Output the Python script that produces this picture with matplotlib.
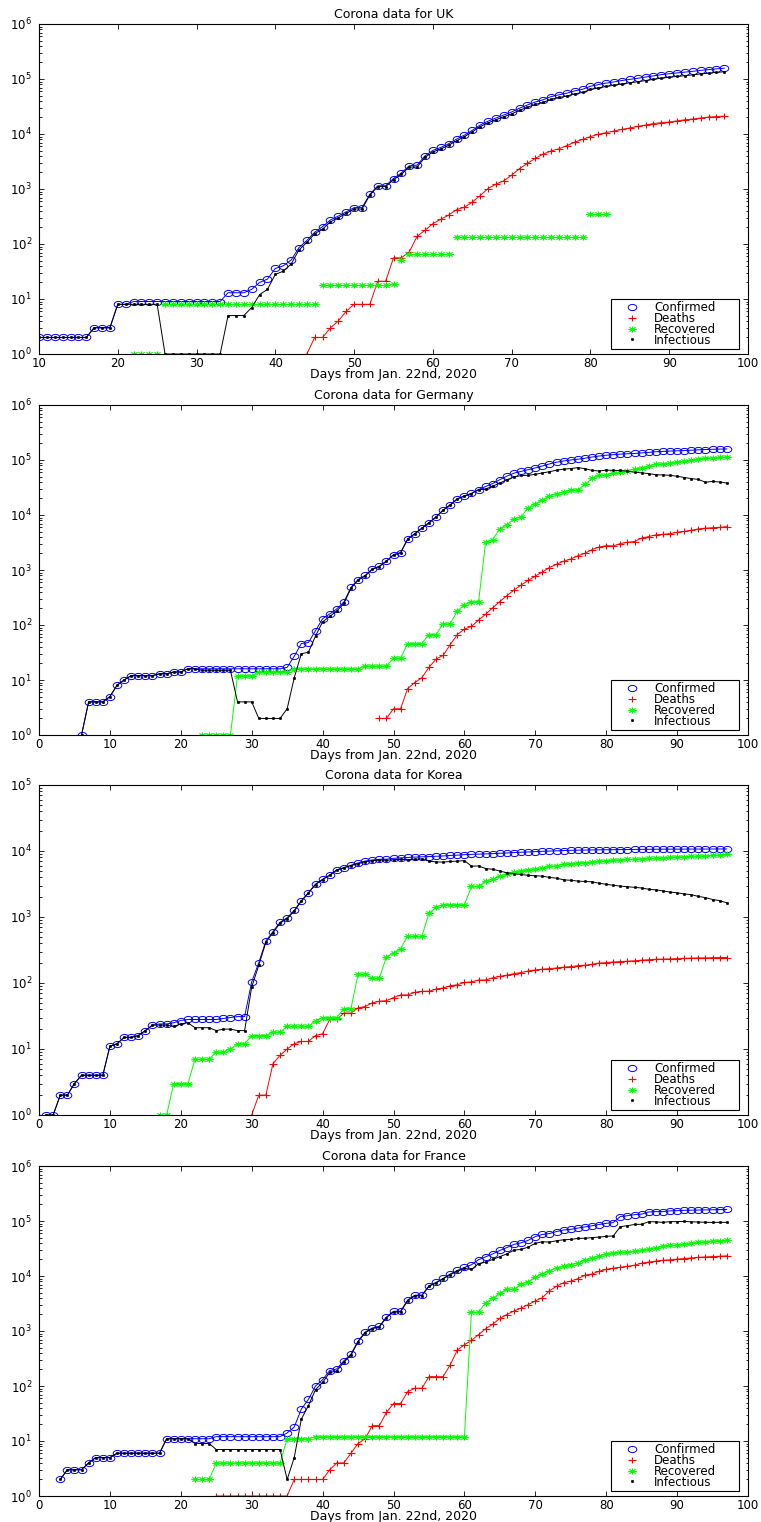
"""Corona data per country, MATLAB-like log plots (4 panels)."""
import numpy as np
import matplotlib
matplotlib.use("Agg")
import matplotlib.pyplot as plt
from matplotlib.path import Path
from matplotlib.lines import Line2D
from matplotlib.ticker import FixedLocator, LogFormatterSciNotation, NullFormatter

# ---- data (day 1 = Jan. 22nd, 2020); each series starts at its *_from day ----
uk_conf_from = 10
uk_conf = [2, 2, 2, 2, 2, 2, 2, 3, 3, 3, 8, 8, 9, 9, 9, 9, 9, 9, 9, 9, 9, 9, 9, 9,
           13, 13, 13, 15, 20, 23, 36, 40, 51, 86, 116, 164, 207, 274, 322, 384,
           459, 459, 802, 1144, 1145, 1551, 1960, 2642, 2716, 4014, 5018, 5683,
           6650, 8077, 9529, 11658, 14543, 17089, 19522, 22141, 25150, 29474,
           33718, 38168, 41903, 47806, 51608, 55242, 60733, 65077, 73758, 78991,
           84279, 88621, 93873, 98476, 103093, 108692, 114217, 120067, 124743,
           129044, 133495, 138078, 143464, 148377, 152840, 157149]
uk_dea_from = 44
uk_dea = [1, 2, 2, 3, 4, 6, 8, 8, 8, 21, 21, 56, 56, 72, 138, 178, 234, 282, 335,
          422, 465, 578, 759, 1019, 1228, 1408, 1789, 2352, 2921, 3605, 4313, 4934,
          5373, 6159, 7097, 7978, 8958, 9875, 10612, 11329, 12107, 12868, 13729,
          14576, 15464, 16060, 16509, 17337, 18100, 18738, 19506, 20319, 20732, 21092]
uk_rec_from = 22
uk_rec = [1, 1, 1, 1, 8, 8, 8, 8, 8, 8, 8, 8, 8, 8, 8, 8, 8, 8, 8, 8, 8, 8, 8, 8,
          18, 18, 18, 18, 18, 18, 18, 18, 18, 19, 52, 65, 65, 65, 65, 65, 65,
          135, 135, 135, 135, 135, 135, 135, 135, 135, 135, 135, 135, 135, 135,
          135, 135, 135, 344, 344, 344]
uk_inf_from = 10
uk_inf = [2, 2, 2, 2, 2, 2, 2, 3, 3, 3, 8, 8, 8, 8, 8, 8, 1, 1, 1, 1, 1, 1, 1, 1,
          5, 5, 5, 7, 12, 15, 28, 32, 43, 78, 107, 154, 187, 253, 300, 360, 433,
          433, 776, 1105, 1106, 1476, 1852, 2505, 2513, 3771, 4719, 5336, 6250,
          7520, 8929, 10945, 13649, 15935, 18159, 20598, 23226, 26987, 30662,
          34428, 37455, 42737, 46100, 48948, 53501, 56964, 64456, 68772, 73323,
          76948, 81422, 85264, 89020, 93772, 98409, 103663, 107890, 111363,
          115051, 118996, 123614, 127714, 131764, 135713]

ger_conf_from = 6
ger_conf = [1, 4, 4, 4, 5, 8, 10, 12, 12, 12, 12, 13, 13, 14, 14, 16, 16, 16, 16,
            16, 16, 16, 16, 16, 16, 16, 16, 16, 16, 17, 27, 46, 48, 79, 130, 159,
            196, 262, 482, 670, 799, 1040, 1176, 1457, 1908, 2078, 3675, 4585,
            5795, 7272, 9257, 12327, 15320, 19848, 22213, 24873, 29056, 32986,
            37323, 43938, 50871, 57695, 62095, 66885, 71808, 77872, 84794, 91159,
            96092, 100123, 103374, 107663, 113296, 118181, 122171, 124908, 127854,
            130072, 131359, 134753, 137698, 141397, 143342, 145184, 147065,
            148291, 150648, 153129, 154999, 156513, 157770, 158758]
ger_dea_from = 48
ger_dea = [2, 2, 3, 3, 7, 9, 11, 17, 24, 28, 44, 67, 84, 94, 123, 157, 206, 267,
           342, 433, 533, 645, 775, 920, 1107, 1275, 1444, 1584, 1810, 2016, 2349,
           2607, 2767, 2736, 3022, 3194, 3294, 3804, 4052, 4352, 4459, 4586, 4862,
           5033, 5279, 5575, 5760, 5877, 5976, 6126]
ger_rec_from = 23
ger_rec = [1, 1, 1, 1, 1, 12, 12, 12, 14, 14, 14, 14, 14, 16, 16, 16, 16, 16, 16,
           16, 16, 16, 16, 18, 18, 18, 18, 25, 25, 46, 46, 46, 67, 67, 105, 105,
           180, 233, 266, 266, 3243, 3547, 5673, 6658, 8481, 9211, 13500, 16100,
           18700, 22440, 24575, 26400, 28700, 28700, 36081, 46300, 52407, 53913,
           57400, 60300, 64300, 68200, 72600, 77000, 83114, 85400, 88000, 91500,
           95200, 99400, 103300, 109800, 109800, 112000, 114500]
ger_inf_from = 6
ger_inf = [1, 4, 4, 4, 5, 8, 10, 12, 12, 12, 12, 13, 13, 14, 14, 16, 16, 15, 15,
           15, 15, 15, 4, 4, 4, 2, 2, 2, 2, 3, 11, 30, 32, 63, 114, 143, 180, 246,
           466, 654, 781, 1022, 1156, 1437, 1880, 2050, 3622, 4530, 5738, 7188,
           9166, 12194, 15171, 19601, 21896, 24513, 28667, 29586, 33570, 37998,
           43871, 48781, 52351, 52740, 54933, 58252, 61247, 65309, 68248, 69839,
           72864, 69566, 64647, 63167, 65491, 64772, 64532, 62578, 59865, 58349,
           56646, 53931, 53483, 52598, 50703, 48058, 45969, 44254, 39439, 40836,
           39794, 38132]

kor_conf_from = 1
kor_conf = [1, 1, 2, 2, 3, 4, 4, 4, 4, 11, 12, 15, 15, 16, 19, 23, 24, 24, 25, 27,
            28, 28, 28, 28, 28, 29, 30, 31, 31, 104, 204, 433, 602, 833, 977, 1261,
            1766, 2337, 3150, 3736, 4335, 5186, 5621, 6088, 6593, 7041, 7314, 7478,
            7513, 7755, 7869, 7979, 8086, 8162, 8236, 8320, 8413, 8565, 8652, 8799,
            8897, 8961, 9037, 9137, 9241, 9332, 9478, 9583, 9661, 9786, 9887, 9976,
            10062, 10156, 10237, 10284, 10331, 10384, 10423, 10450, 10480, 10512,
            10537, 10564, 10591, 10613, 10635, 10653, 10661, 10674, 10683, 10694,
            10702, 10708, 10718, 10728, 10738]
kor_dea_from = 30
kor_dea = [1, 2, 2, 6, 8, 10, 12, 13, 13, 16, 17, 28, 28, 35, 35, 42, 44, 50, 53,
           54, 60, 66, 66, 72, 75, 75, 81, 84, 91, 94, 102, 104, 111, 111, 120, 126,
           131, 139, 144, 152, 158, 162, 165, 169, 174, 177, 183, 186, 192, 200,
           204, 208, 211, 214, 217, 222, 225, 229, 230, 232, 234, 236, 238, 240,
           240, 242, 243, 243]
kor_rec_from = 17
kor_rec = [1, 1, 3, 3, 3, 7, 7, 7, 9, 9, 10, 12, 12, 16, 16, 16, 18, 18, 22, 22, 22,
           22, 27, 30, 30, 30, 41, 41, 135, 135, 118, 118, 247, 288, 333, 510, 510,
           510, 1137, 1407, 1540, 1540, 1540, 1540, 2909, 2909, 3507, 3730, 4144,
           4528, 4811, 5033, 5228, 5410, 5567, 5828, 6021, 6325, 6463, 6598, 6694,
           6776, 6973, 7117, 7243, 7368, 7447, 7534, 7616, 7757, 7829, 7937, 8042,
           8114, 8213, 8277, 8411, 8501, 8635, 8717, 8854]
kor_inf_from = 1
kor_inf = [1, 1, 2, 2, 3, 4, 4, 4, 4, 11, 12, 15, 15, 16, 19, 23, 23, 23, 22, 24, 25,
           21, 21, 21, 19, 20, 20, 19, 19, 87, 186, 415, 578, 807, 945, 1227, 1731,
           2302, 3107, 3689, 4277, 5128, 5545, 6012, 6416, 6862, 7146, 7307, 7212,
           7407, 7470, 7403, 7504, 7577, 7024, 6832, 6789, 6934, 7018, 7157, 5884,
           5941, 5419, 5287, 4971, 4673, 4528, 4406, 4281, 4218, 4158, 3983, 3872,
           3657, 3597, 3503, 3451, 3416, 3250, 3129, 3029, 2933, 2876, 2813, 2753,
           2631, 2577, 2486, 2387, 2326, 2234, 2179, 2051, 1967, 1841, 1768, 1641]

fra_conf_from = 3
fra_conf = [2, 3, 3, 3, 4, 5, 5, 5, 6, 6, 6, 6, 6, 6, 6, 11, 11, 11, 11, 11, 11, 11,
            12, 12, 12, 12, 12, 12, 12, 12, 12, 12, 14, 18, 38, 57, 100, 130, 191,
            204, 288, 380, 656, 957, 1134, 1217, 1792, 2281, 2281, 3661, 4469, 4499,
            6633, 7652, 9043, 10871, 12612, 14282, 16018, 19856, 22304, 25233,
            29155, 32964, 37575, 40174, 44550, 52128, 56989, 59105, 64338, 68605,
            70478, 74390, 78167, 82048, 86334, 90676, 93790, 120633, 124869,
            130253, 133470, 146075, 148084, 148086, 153011, 154188, 156480,
            157220, 158303, 159127, 160114, 161488, 162220]
fra_dea_from = 25
fra_dea = [1, 1, 1, 1, 1, 1, 1, 1, 1, 1, 1, 2, 2, 2, 2, 2, 3, 4, 4, 6, 9, 11, 19,
           19, 33, 48, 48, 79, 91, 91, 148, 148, 148, 243, 450, 562, 674, 860, 1100,
           1331, 1696, 1995, 2314, 2606, 3024, 3523, 4043, 5387, 6507, 7560, 8078,
           8911, 10328, 10869, 12210, 13197, 13832, 14393, 14967, 15712, 17148,
           17901, 18661, 19303, 19694, 20240, 20765, 21309, 21825, 22212, 22583,
           22825, 23262]
fra_rec_from = 22
fra_rec = [2, 2, 2, 4, 4, 4, 4, 4, 4, 4, 4, 4, 4, 11, 11, 11, 11, 12, 12, 12, 12,
           12, 12, 12, 12, 12, 12, 12, 12, 12, 12, 12, 12, 12, 12, 12, 12, 12, 12,
           2200, 2200, 3281, 3900, 4948, 5700, 5700, 7202, 7927, 9444, 10935,
           12428, 14008, 15438, 16183, 17250, 19337, 21254, 23206, 24932, 26391,
           27186, 27718, 28001, 29098, 30955, 32812, 34420, 35983, 36578, 37409,
           39181, 40657, 42088, 43493, 44125, 44594]
fra_inf_from = 3
fra_inf = [2, 3, 3, 3, 4, 5, 5, 5, 6, 6, 6, 6, 6, 6, 6, 11, 11, 11, 11, 9, 9, 9, 7,
           7, 7, 7, 7, 7, 7, 7, 7, 7, 2, 5, 25, 44, 86, 116, 176, 188, 272, 362,
           635, 934, 1103, 1186, 1747, 2221, 2221, 3570, 4366, 4396, 6473, 7492,
           8883, 10616, 12150, 13708, 13144, 16796, 17923, 20002, 22511, 25269,
           29561, 30366, 33599, 39161, 42011, 41290, 43823, 45607, 46217, 48229,
           48502, 49925, 50918, 52547, 53567, 79054, 82184, 86540, 87224, 97219,
           96611, 94363, 97334, 97370, 98306, 96730, 95821, 94827, 94038, 94538,
           94364]

labels = ["Confirmed", "Deaths", "Recovered", "Infectious"]

PANELS = [
    ("UK", (10, 100), 6,
     [(uk_conf_from, uk_conf), (uk_dea_from, uk_dea),
      (uk_rec_from, uk_rec), (uk_inf_from, uk_inf)]),
    ("Germany", (0, 100), 6,
     [(ger_conf_from, ger_conf), (ger_dea_from, ger_dea),
      (ger_rec_from, ger_rec), (ger_inf_from, ger_inf)]),
    ("Korea", (0, 100), 5,
     [(kor_conf_from, kor_conf), (kor_dea_from, kor_dea),
      (kor_rec_from, kor_rec), (kor_inf_from, kor_inf)]),
    ("France", (0, 100), 6,
     [(fra_conf_from, fra_conf), (fra_dea_from, fra_dea),
      (fra_rec_from, fra_rec), (fra_inf_from, fra_inf)]),
]

# ---- stretched MATLAB-ish markers ----
SX = 1.4
_t = np.linspace(0, 2 * np.pi, 41)
OVAL = Path(np.column_stack([SX * np.cos(_t), np.sin(_t)]), closed=True)
_M, _L = Path.MOVETO, Path.LINETO
PLUS = Path([(-SX, 0), (SX, 0), (0, -1), (0, 1)], [_M, _L, _M, _L])
_d = 0.72
STAR = Path([(-SX, 0), (SX, 0), (0, -1), (0, 1),
             (-SX * _d, -_d), (SX * _d, _d), (-SX * _d, _d), (SX * _d, -_d)],
            [_M, _L] * 4)

GREEN = (0, 1, 0)
STYLES = [
    dict(color="b", marker=OVAL, ms=6.2, mfc="none", mec="b", mew=0.7),
    dict(color="r", marker=PLUS, ms=6.2, mfc="none", mec="r", mew=0.8),
    dict(color=GREEN, marker=STAR, ms=6.2, mfc="none", mec=GREEN, mew=0.8),
    dict(color="k", marker="o", ms=1.9, mfc="k", mec="k", mew=0.3),
]

plt.rcParams["font.family"] = ["DejaVu Sans"]
fig = plt.figure(figsize=(7.61, 15.22), dpi=100)

left, width, height = 39 / 761, 709 / 761, 330 / 1522
bottoms_px = [354, 735, 1115, 1496]

for (name, xlim, top_exp, series), bpx in zip(PANELS, bottoms_px):
    ax = fig.add_axes([left, 1 - bpx / 1522, width, height])
    for (start, vals), st, lab in zip(series, STYLES, labels):
        x = np.arange(start, start + len(vals))
        ls = "none" if (name == "UK" and lab == "Recovered") else "-"
        ax.plot(x, vals, ls=ls, lw=0.7, **st)

    ax.set_yscale("log")
    ax.set_xlim(*xlim)
    ax.set_ylim(1, 10.0 ** top_exp)
    # only ticks inside the visible range
    ax.xaxis.set_major_locator(FixedLocator(np.arange(xlim[0], xlim[1] + 1, 10)))
    decades = 10.0 ** np.arange(0, top_exp + 1)
    ax.yaxis.set_major_locator(FixedLocator(decades))
    ax.yaxis.set_major_formatter(LogFormatterSciNotation())
    minors = [d * k for d in decades[:-1] for k in range(2, 10)]
    ax.yaxis.set_minor_locator(FixedLocator(minors))
    ax.yaxis.set_minor_formatter(NullFormatter())
    ax.tick_params(which="both", direction="in", top=True, right=True,
                   width=0.6, labelsize=8.5)
    ax.tick_params(which="major", length=3.5)
    ax.tick_params(which="minor", length=1.8)
    ax.tick_params(axis="x", pad=2.5)
    ax.tick_params(axis="y", pad=5)
    for sp in ax.spines.values():
        sp.set_linewidth(0.8)

    ax.set_title(f"Corona data for {name}", fontsize=9, pad=4)
    ax.set_xlabel("Days from Jan. 22nd, 2020", fontsize=9)
    ax.xaxis.set_label_coords(0.5, -0.041)

    handles = [Line2D([], [], ls="none", **st) for st in STYLES]
    leg = ax.legend(handles, labels, loc="lower left", mode="expand",
                    bbox_to_anchor=(0.8068, 0.0152, 0.1805, 0.1), borderaxespad=0,
                    fontsize=8.5, frameon=True, fancybox=False, framealpha=1,
                    edgecolor="black", borderpad=0.2, labelspacing=-0.18,
                    handlelength=3.1, handletextpad=0.35, numpoints=1)
    leg.get_frame().set_linewidth(0.8)

fig.savefig("out.png", dpi=100)
plt.close(fig)
